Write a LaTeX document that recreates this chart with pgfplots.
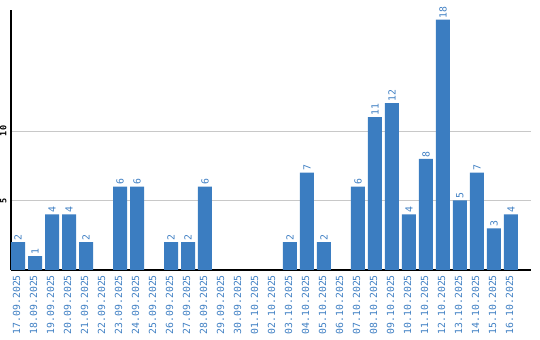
\documentclass[border=0pt]{standalone}
\usepackage{pgfplots}
\pgfplotsset{compat=1.18}
\usepackage{fontspec}
\setmainfont{DejaVu Sans Mono}
\definecolor{barblue}{HTML}{3B7DC1}
\definecolor{textblue}{HTML}{3F7FC3}
\definecolor{gridgray}{HTML}{C8C8C8}
\begin{document}
\begin{tikzpicture}
\begin{axis}[
  scale only axis,
  width=520pt, height=260pt,
  xmin=-0.41, xmax=30.18,
  ymin=0, ymax=18.7,
  axis x line*=bottom, axis y line*=left,
  axis line style={line width=1.4pt, black, -},
  xtick={0,...,29},
  xticklabels={17.09.2025,18.09.2025,19.09.2025,20.09.2025,21.09.2025,22.09.2025,23.09.2025,24.09.2025,25.09.2025,26.09.2025,27.09.2025,28.09.2025,29.09.2025,30.09.2025,01.10.2025,02.10.2025,03.10.2025,04.10.2025,05.10.2025,06.10.2025,07.10.2025,08.10.2025,09.10.2025,10.10.2025,11.10.2025,12.10.2025,13.10.2025,14.10.2025,15.10.2025,16.10.2025},
  xticklabel style={rotate=90, anchor=east, font=\fontsize{9.8}{10}\selectfont, text=textblue, inner sep=0pt},
  ytick={5,10},
  yticklabel style={rotate=90, anchor=south, font=\fontsize{8.5}{8.5}\selectfont\bfseries, inner sep=0pt},
  major tick length=0pt,
  ymajorgrids,
  grid style={gridgray, line width=0.8pt},
  /pgf/number format/assume math mode=true,
  typeset ticklabels with strut=false,
  xticklabel shift=5pt,
  yticklabel shift=2pt,
  clip=false,
]
\addplot[ybar, bar width=14pt, fill=barblue, draw=none,
  nodes near coords,
  every node near coord/.append style={rotate=90, anchor=west, font=\fontsize{9.8}{10}\selectfont, text=textblue, inner sep=1.5pt},
] coordinates {
(0,2) (1,1) (2,4) (3,4) (4,2) (6,6) (7,6) (9,2) (10,2) (11,6)
(16,2) (17,7) (18,2) (20,6) (21,11) (22,12) (23,4) (24,8) (25,18)
(26,5) (27,7) (28,3) (29,4)
};
\end{axis}
\path (current axis.south west) ++(-11pt,-70pt) rectangle ++(540pt,340pt);
\end{tikzpicture}
\end{document}
